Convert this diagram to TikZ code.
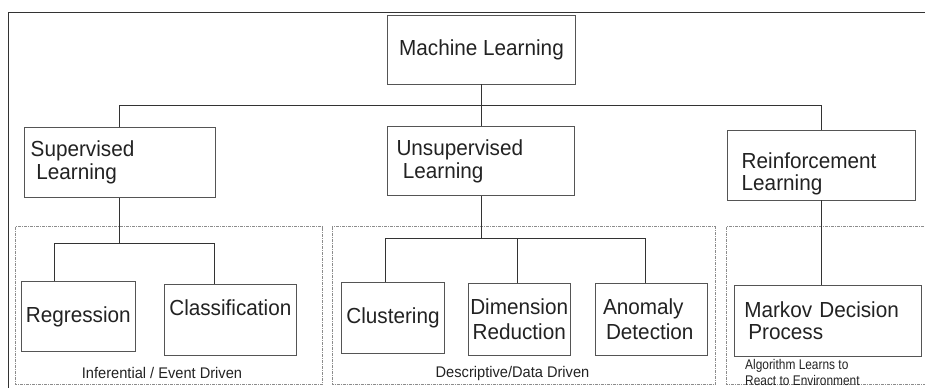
\documentclass[tikz,border=0pt]{standalone}
\usepackage{fontspec}
\setmainfont{Liberation Sans}[FakeStretch=0.95]
\newfontfamily\narrowfont{Liberation Sans}[FakeStretch=0.85]
\usetikzlibrary{calc}
\definecolor{ink}{HTML}{222222}
\definecolor{edgec}{HTML}{555555}
\definecolor{wire}{HTML}{333333}
\definecolor{grpc}{HTML}{8C8C8C}
\begin{document}
\begin{tikzpicture}[x=1pt,y=-1pt,
  box/.style={draw=edgec, line width=0.9pt, rectangle, inner sep=0pt, text=ink,
    font=\fontsize{21.8}{23}\selectfont},
  conn/.style={draw=wire, line width=0.8pt},
  grpbox/.style={draw=grpc, line width=0.8pt, dash pattern=on 3pt off 1pt on 1pt off 1pt},
  note/.style={text=ink, inner sep=0pt, font=\fontsize{15.4}{17}\selectfont}
]
\useasboundingbox (0,0) rectangle (925,388);
% outer frame
\draw[draw=wire, line width=1pt] (925,12) -- (8,12) -- (8,388);
% group frames
\draw[grpbox] (15.7,226.7) rectangle (322.7,384.3);
\draw[grpbox] (332.3,226.7) rectangle (715,384.3);
\draw[grpbox] (930,226.7) -- (726.5,226.7) -- (726.5,384.3) -- (930,384.3);

% boxes
\node[box, minimum width=188pt, minimum height=69pt] (ml) at (481.5,49.5) {Machine Learning};

\node[box, minimum height=70pt, text width=177.6pt, inner xsep=6.7pt, align=left]
  (sup) at (119.5,162.7) {Supervised\\\hspace*{5.7pt}Learning};
\node[box, minimum height=69pt, text width=169pt, inner xsep=9.3pt, align=left,
  font=\fontsize{21.8}{23.5}\selectfont]
  (unsup) at (481,161.2) {Unsupervised\\\hspace*{6.4pt}Learning};
\node[box, minimum height=69.3pt, text width=159.6pt, inner xsep=14.4pt, align=left,
  font=\fontsize{21.8}{22}\selectfont, text depth=10pt]
  (rein) at (821.5,165.3) {Reinforcement\\Learning};

\node[box, minimum width=113.3pt, minimum height=70pt] (reg) at (78.3,316.7) {Regression};
\node[box, minimum width=132.7pt, minimum height=70.7pt, text depth=24pt] (cls) at (230.3,319.7) {Classification};

\node[box, minimum width=102.6pt, minimum height=71pt] (clu) at (393,317.8) {Clustering};
\node[box, minimum width=101.7pt, minimum height=71.7pt, align=center,
  font=\fontsize{21.8}{25.5}\selectfont] (dim) at (519.2,319.2) {Dimension\\Reduction};
\node[box, minimum height=71.7pt, text width=97pt, inner xsep=7.3pt, align=left,
  font=\fontsize{21.8}{25}\selectfont] (ano) at (651.5,319.2) {Anomaly\\\hspace*{3pt}Detection};

\node[box, minimum height=70.3pt, text width=167.4pt, inner xsep=10pt, align=left,
  font=\fontsize{21.8}{22}\selectfont] (mdp) at (828,320.8) {Markov Decision\\\hspace*{4pt}Process};

% labels
\node[note] (l1) at (162,373.3) {Inferential / Event Driven};
\node[note] (l2) at (512.5,373.3) {Descriptive/Data Driven};
\node[note, font=\narrowfont\fontsize{14}{15.7}\selectfont, align=left, anchor=west] (l3) at (745,372.8)
  {Algorithm Learns to\\React to Environment};

% connectors
\coordinate (bus) at (481.5,105.5);
\draw[conn] (ml.south) -- (ml.south |- unsup.north);
\draw[conn] (sup.north) |- (bus) -| (rein.north);

\coordinate (b1) at ($(sup.south)+(0,44.8)$);
\draw[conn] (sup.south) -- (b1);
\draw[conn] ([xshift=-24pt]reg.north) |- (b1) -| ([xshift=-16pt]cls.north);

\coordinate (b2) at ($(unsup.south)+(0,42.6)$);
\draw[conn] (unsup.south) -- (b2);
\draw[conn] ([xshift=-7.3pt]clu.north) |- (b2) -| ([xshift=-5.8pt]ano.north);
\draw[conn] ([xshift=-1.5pt]dim.north) -- ([xshift=-1.5pt]dim.north |- b2);

\draw[conn] (rein.south) -- (rein.south |- mdp.north);
\end{tikzpicture}
\end{document}
